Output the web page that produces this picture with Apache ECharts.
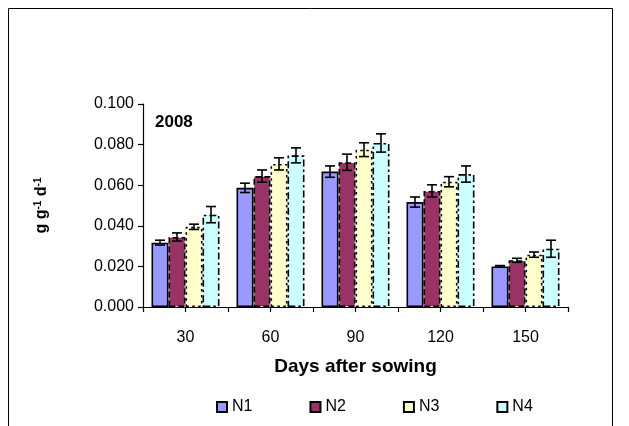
<!DOCTYPE html>
<html>
<head>
<meta charset="utf-8">
<script src="https://cdn.jsdelivr.net/npm/echarts@6/dist/echarts.min.js"></script>
<style>
  html, body { margin: 0; padding: 0; background: #fff; }
  #chart { width: 629px; height: 426px; }
</style>
</head>
<body>
<div id="chart"></div>
<script>
// Relative growth rate by days after sowing, four nitrogen levels (2008)
const days = ['30', '60', '90', '120', '150'];
const seriesNames = ['N1', 'N2', 'N3', 'N4'];
const n1 = [0.0317, 0.0587, 0.0667, 0.0517, 0.0200];
const n2 = [0.0345, 0.0645, 0.0713, 0.0572, 0.0230];
const n3 = [0.0395, 0.0705, 0.0775, 0.0617, 0.0258];
const n4 = [0.0455, 0.0747, 0.0808, 0.0655, 0.0287];
const n1Err = [0.0012, 0.0023, 0.0028, 0.0025, 0.0004];
const n2Err = [0.0020, 0.0030, 0.0040, 0.0030, 0.0010];
const n3Err = [0.0013, 0.0030, 0.0034, 0.0025, 0.0013];
const n4Err = [0.0040, 0.0037, 0.0045, 0.0040, 0.0042];
const yTicks = [0, 0.02, 0.04, 0.06, 0.08, 0.1];

const values = [n1, n2, n3, n4];
const errors = [n1Err, n2Err, n3Err, n4Err];
const fills = ['#9999ff', '#993366', '#ffffcc', '#ccffff'];
const borderTypes = ['solid', [6, 3], [2.5, 3.5], [7, 3, 2.5, 3]];
const FONT = '"Liberation Sans", Arial, sans-serif';
const GAP = 0.2;   // barCategoryGap as a fraction

const chart = echarts.init(document.getElementById('chart'), null, { renderer: 'canvas' });

const barSeries = seriesNames.map((name, i) => ({
  name: name,
  type: 'bar',
  data: values[i],
  barGap: '0%',
  barCategoryGap: (GAP * 100) + '%',
  itemStyle: {
    color: fills[i],
    borderColor: '#000',
    borderWidth: 1.6,
    borderType: borderTypes[i]
  },
  emphasis: { disabled: true }
}));

const errSeries = seriesNames.map((name, i) => ({
  name: name + ' err',
  type: 'custom',
  xAxisIndex: 0,
  yAxisIndex: 0,
  z: 5,
  silent: true,
  data: values[i].map((v, k) => [k, v, errors[i][k]]),
  renderItem: function (params, api) {
    const k = api.value(0), v = api.value(1), e = api.value(2);
    const band = api.size([1, 0])[0];
    const group = band * (1 - GAP);
    const bw = group / seriesNames.length;
    const center = api.coord([k, v]);
    const x = center[0] - group / 2 + bw * (i + 0.5);
    const yHi = api.coord([k, v + e])[1];
    const yLo = api.coord([k, v - e])[1];
    const half = 5;
    const st = { stroke: '#000', lineWidth: 1.6 };
    return {
      type: 'group',
      children: [
        { type: 'line', shape: { x1: x, y1: yHi, x2: x, y2: yLo }, style: st },
        { type: 'line', shape: { x1: x - half, y1: yHi, x2: x + half, y2: yHi }, style: st },
        { type: 'line', shape: { x1: x - half, y1: yLo, x2: x + half, y2: yLo }, style: st }
      ]
    };
  }
}));

chart.setOption({
  animation: false,
  backgroundColor: '#fff',
  textStyle: { fontFamily: FONT },
  graphic: [
    { type: 'rect', shape: { x: 8.5, y: 8.5, width: 604, height: 430 },
      style: { fill: 'none', stroke: '#000', lineWidth: 1 }, silent: true },
    { type: 'text', left: 155, top: 114,
      style: { text: '2008', font: 'bold 17px ' + FONT, fill: '#000' } }
  ],
  grid: { left: 143, right: 61, top: 104, bottom: 119 },
  legend: {
    data: seriesNames,
    bottom: 6,
    left: 211,
    itemWidth: 10,
    itemHeight: 10,
    itemGap: 57,
    icon: 'rect',
    textStyle: { fontSize: 16, color: '#000', fontFamily: FONT }
  },
  xAxis: [
    {
      type: 'category',
      data: days,
      axisLine: { lineStyle: { color: '#000', width: 1.2 } },
      axisTick: { show: false },
      axisLabel: { color: '#000', fontSize: 16, margin: 23, fontFamily: FONT },
      name: 'Days after sowing',
      nameLocation: 'middle',
      nameGap: 50,
      nameTextStyle: { color: '#000', fontSize: 19, fontWeight: 'bold', fontFamily: FONT }
    },
    {
      // half-category ticks along the baseline
      type: 'category',
      data: days.flatMap(d => [d, d]),
      position: 'bottom',
      axisLine: { show: false },
      axisTick: { show: true, length: 5, lineStyle: { color: '#000', width: 1.2 } },
      axisLabel: { show: false }
    }
  ],
  yAxis: {
    type: 'value',
    min: yTicks[0],
    max: yTicks[yTicks.length - 1],
    interval: 0.02,
    splitLine: { show: false },
    axisLine: { show: true, lineStyle: { color: '#000', width: 1.2 } },
    axisTick: { show: true, length: 5, lineStyle: { color: '#000', width: 1.2 } },
    axisLabel: { color: '#000', fontSize: 16, margin: 9, fontFamily: FONT,
      formatter: v => v.toFixed(3) },
    name: 'g g{s|-1} d{s|-1}',
    nameLocation: 'middle',
    nameGap: 93,
    nameRotate: 90,
    nameTextStyle: {
      color: '#000', fontSize: 16, fontWeight: 'bold', fontFamily: FONT,
      rich: {
        s: { fontSize: 10, fontWeight: 'bold', verticalAlign: 'top', padding: [0, 0, 7, 0], fontFamily: FONT }
      }
    }
  },
  series: barSeries.concat(errSeries)
});
</script>
</body>
</html>
